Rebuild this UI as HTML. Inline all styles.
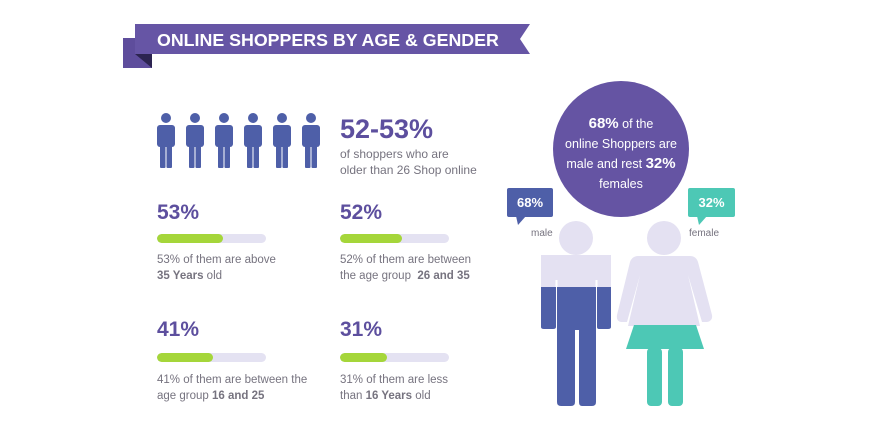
<!DOCTYPE html>
<html><head><style>
body{margin:0;width:880px;height:434px;background:#fff;position:relative;overflow:hidden;font-family:"Liberation Sans",sans-serif}
.a{position:absolute}
.big{font-weight:bold;color:#5d4f9e;font-size:21px}
.t{color:#76737f;font-size:11.5px;line-height:16px}
.bar{height:9px;width:109px;background:#e4e2f2;border-radius:5px;overflow:hidden}
.bar div{height:100%;background:#a5d63a;border-radius:5px}
</style></head><body>
<svg class="a" style="left:0;top:0" width="880" height="434">
<polygon points="123,38 152,38 152,68 123,68" fill="#5e4d9c"/>
<polygon points="135,54 152,68 152,54" fill="#2c2450"/>
<polygon points="135,24 530,24 520,39 530,54 135,54" fill="#6655a5"/>
<g fill="#4e5fa8">
<g id="p"><circle cx="166" cy="118" r="5"/><rect x="157" y="125" width="18" height="22" rx="3"/><rect x="160" y="140" width="5.5" height="28" rx="1"/><rect x="166.5" y="140" width="5.5" height="28" rx="1"/></g>
<use href="#p" x="29"/><use href="#p" x="58"/><use href="#p" x="87"/><use href="#p" x="116"/><use href="#p" x="145"/>
</g>
<circle cx="621" cy="149" r="68" fill="#6554a3"/>
<rect x="507" y="188" width="46" height="29" rx="2" fill="#4e5fa8"/><polygon points="516,216 526,216 518,225" fill="#4e5fa8"/>
<rect x="688" y="188" width="47" height="29" rx="2" fill="#4dc8b5"/><polygon points="697,216 707,216 699,225" fill="#4dc8b5"/>
<circle cx="576" cy="238" r="17" fill="#e4e1f2"/>
<clipPath id="m"><rect x="541" y="255" width="70" height="151"/></clipPath>
<g clip-path="url(#m)">
<path d="M541,327 V265 Q541,256 551,256 H601 Q611,256 611,265 V327 Q611,329 608,329 H599 Q597,329 597,327 V280 H596 V402 Q596,406 592,406 H582 Q579,406 579,402 V330 H575 V402 Q575,406 571,406 H561 Q557,406 557,402 V280 H556 V327 Q556,329 553,329 H544 Q541,329 541,327Z" fill="#4e5fa8"/>
<rect x="541" y="255" width="70" height="32" fill="#e4e1f2"/>
<rect x="555.5" y="280" width="2" height="7" fill="#fff"/><rect x="595.5" y="280" width="2" height="7" fill="#fff"/>
</g>
<circle cx="664" cy="238" r="17" fill="#e4e1f2"/>
<path d="M638,256 H690 Q696,256 698,262 L712,315 Q713,321 707,322 L702,322 L688,275 L700,326 H628 L640,275 L627,322 L621,322 Q616,321 617,315 L630,262 Q632,256 638,256Z" fill="#e4e1f2"/>
<polygon points="634,325 696,325 704,349 626,349" fill="#4dc8b5"/>
<rect x="647" y="348" width="15" height="58" rx="4" fill="#4dc8b5"/><rect x="668" y="348" width="15" height="58" rx="4" fill="#4dc8b5"/>
</svg>
<div class="a" style="left:157px;top:30px;color:#fff;font-weight:bold;font-size:17.8px">ONLINE SHOPPERS BY AGE &amp; GENDER</div>
<div class="a big" style="left:340px;top:114px;font-size:27px">52-53%</div>
<div class="a t" style="left:340px;top:146px;font-size:12px">of shoppers who are<br>older than 26 Shop online</div>
<div class="a big" style="left:157px;top:201px">53%</div>
<div class="a bar" style="left:157px;top:234px"><div style="width:66px"></div></div>
<div class="a t" style="left:157px;top:252px">53% of them are above<br><b>35 Years</b> old</div>
<div class="a big" style="left:340px;top:201px">52%</div>
<div class="a bar" style="left:340px;top:234px"><div style="width:62px"></div></div>
<div class="a t" style="left:340px;top:252px">52% of them are between<br>the age group &nbsp;<b>26 and 35</b></div>
<div class="a big" style="left:157px;top:318px">41%</div>
<div class="a bar" style="left:157px;top:353px"><div style="width:56px"></div></div>
<div class="a t" style="left:157px;top:372px">41% of them are between the<br>age group <b>16 and 25</b></div>
<div class="a big" style="left:340px;top:318px">31%</div>
<div class="a bar" style="left:340px;top:353px"><div style="width:47px"></div></div>
<div class="a t" style="left:340px;top:372px">31% of them are less<br>than <b>16 Years</b> old</div>
<div class="a" style="left:553px;top:114px;width:136px;text-align:center;color:#fff;font-size:12.5px;line-height:20px"><b style="font-size:15px">68%</b> of the<br>online Shoppers are<br>male and rest <b style="font-size:15px">32%</b><br>females</div>
<div class="a" style="left:507px;top:195px;width:46px;text-align:center;color:#fff;font-weight:bold;font-size:13px">68%</div>
<div class="a" style="left:688px;top:195px;width:47px;text-align:center;color:#fff;font-weight:bold;font-size:13px">32%</div>
<div class="a t" style="left:531px;top:226px;font-size:10px">male</div>
<div class="a t" style="left:689px;top:226px;font-size:10px">female</div>
</body></html>
